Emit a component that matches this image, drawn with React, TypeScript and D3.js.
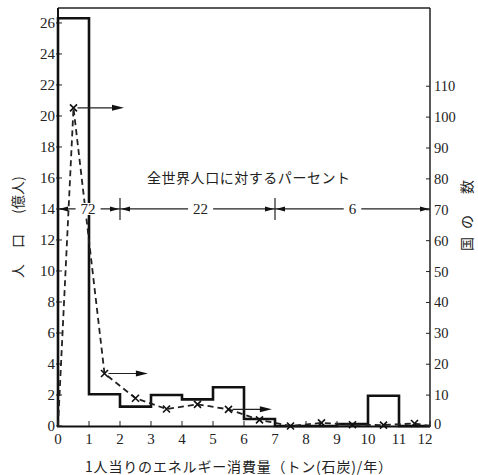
import React from "react";
import * as d3 from "d3";

// ---- data ----
const binEdges = [0, 1, 2, 3, 4, 5, 6, 7, 8, 9, 10, 11, 12];
const populationValues = [26.3, 2.05, 1.25, 2.0, 1.72, 2.5, 0.45, 0, 0, 0.12, 1.95, 0];
const countryX = [0, 0.5, 1.5, 2.5, 3.5, 4.5, 5.5, 6.5, 7.5, 8.5, 9.5, 10.5, 11.5, 12];
const countryValues = [0, 103, 17, 9, 5.5, 7, 5.4, 2, 0, 1, 0.4, 0.3, 0.8, 0];
const markedIdx = [1, 2, 3, 4, 5, 6, 7, 8, 9, 10, 11, 12];
const leftTicks = [0, 2, 4, 6, 8, 10, 12, 14, 16, 18, 20, 22, 24, 26];
const rightTicks = [0, 10, 20, 30, 40, 50, 60, 70, 80, 90, 100, 110];
const xTicks = [0, 1, 2, 3, 4, 5, 6, 7, 8, 9, 10, 11, 12];
const bandEdges = [0, 2, 7, 12];
const bandLabels = ["72", "22", "6"];
const bandLabelX = [0.97, 4.6, 9.5];
const bandLevel = 14;
const arrowFrom = [0.5, 1.5, 5.5];
const arrowTo = [2.13, 2.9, 6.9];
const arrowVal = [103, 17, 5.4];

const title = "全世界人口に対するパーセント";
const xLabel = "1人当りのエネルギー消費量（トン(石炭)/年）";

export default function App() {
  const x = d3.scaleLinear().domain([0, 12]).range([58, 430]);
  const yL = d3.scaleLinear().domain([0, 26.9]).range([426, 9]);
  const yR = d3.scaleLinear().domain([0, 135]).range([426, 9]);
  const serif = "'Liberation Serif', 'DejaVu Serif', serif";
  const cjk = "'Noto Sans CJK JP', sans-serif";

  // histogram step path
  const pts: [number, number][] = [[binEdges[0], 0]];
  populationValues.forEach((v, i) => {
    pts.push([binEdges[i], v]);
    pts.push([binEdges[i + 1], v]);
  });
  pts.push([binEdges[binEdges.length - 1], 0]);
  const histLine = d3
    .line<[number, number]>()
    .x((d) => x(d[0]))
    .y((d) => yL(d[1]));

  const cLine = d3
    .line<number>()
    .x((_, i) => x(countryX[i]))
    .y((d) => yR(d));

  const by = yL(bandLevel);

  const arrowHead = (tx: number, ty: number, dir: number, len = 10, hw = 3) =>
    `M${tx},${ty} L${tx - dir * len},${ty - hw} L${tx - dir * len},${ty + hw} Z`;

  return (
    <svg width={478} height={475} style={{ display: "block", position: "absolute", left: 0, top: 0 }}>
      <rect width={478} height={475} fill="#fff" />
      {/* frame */}
      <line x1={x(0)} x2={x(12)} y1={8} y2={8} stroke="#222" strokeWidth={1.5} />
      <line x1={x(12)} x2={x(12)} y1={8} y2={427} stroke="#222" strokeWidth={1.5} />
      <line x1={x(0)} x2={x(0)} y1={8} y2={427} stroke="#111" strokeWidth={2} />
      <line x1={x(0) - 1} x2={x(12)} y1={426.5} y2={426.5} stroke="#111" strokeWidth={2.2} />

      {/* left ticks */}
      {leftTicks.map((t) => (
        <g key={"l" + t}>
          <line x1={x(0) - 2} x2={x(0) + 4} y1={yL(t)} y2={yL(t)} stroke="#222" strokeWidth={1} />
          <text x={55} y={yL(t) + 5} textAnchor="end" fontFamily={serif} fontSize={15} fill="#222">
            {t}
          </text>
        </g>
      ))}
      {/* right ticks */}
      {rightTicks.map((t) => (
        <g key={"r" + t}>
          <line x1={x(12) - 4} x2={x(12)} y1={yR(t)} y2={yR(t)} stroke="#222" strokeWidth={1} />
          <text x={434} y={yR(t) + (t === 0 ? 3 : 5)} textAnchor="start" fontFamily={serif} fontSize={14.5} fill="#222">
            {t}
          </text>
        </g>
      ))}
      {/* x ticks */}
      {xTicks.map((t) => (
        <g key={"x" + t}>
          <line x1={x(t)} x2={x(t)} y1={426} y2={421} stroke="#222" strokeWidth={1} />
          <text x={t === 12 ? x(t) - 5 : x(t)} y={444} textAnchor="middle" fontFamily={serif} fontSize={15} fill="#222">
            {t}
          </text>
        </g>
      ))}

      {/* histogram */}
      <path d={histLine(pts) || ""} fill="none" stroke="#111" strokeWidth={2.6} strokeLinejoin="miter" />

      {/* countries dashed line */}
      <path
        d={cLine(countryValues) || ""}
        fill="none"
        stroke="#222"
        strokeWidth={1.8}
        strokeDasharray="6,4"
      />
      {markedIdx.map((i) => {
        const cx = x(countryX[i]);
        const cy = yR(countryValues[i]);
        const s = 3.5;
        return (
          <path
            key={"m" + i}
            d={`M${cx - s},${cy - s} L${cx + s},${cy + s} M${cx - s},${cy + s} L${cx + s},${cy - s}`}
            stroke="#111"
            strokeWidth={1.6}
          />
        );
      })}

      {/* arrows to right axis */}
      {arrowFrom.map((f, i) => {
        const yy = yR(arrowVal[i]);
        const x1 = x(f) + 4;
        const x2 = x(arrowTo[i]);
        return (
          <g key={"a" + i}>
            <line x1={x1} x2={x2 - 6} y1={yy} y2={yy} stroke="#222" strokeWidth={1.2} />
            <path d={arrowHead(x2, yy, 1, 12, 3)} fill="#111" />
          </g>
        );
      })}

      {/* percent band line */}
      <line x1={x(0)} x2={x(12)} y1={by} y2={by} stroke="#222" strokeWidth={1.2} />
      {bandEdges.slice(1, -1).map((e) => (
        <line key={"be" + e} x1={x(e)} x2={x(e)} y1={by - 11} y2={by + 11} stroke="#222" strokeWidth={1.2} />
      ))}
      {bandEdges.slice(0, -1).map((e, i) => {
        const a = x(e);
        const b = x(bandEdges[i + 1]);
        return (
          <g key={"bh" + i}>
            <path d={arrowHead(a + 1, by, -1, 9, 2.5)} fill="#111" />
            <path d={arrowHead(b - 1, by, 1, 9, 2.5)} fill="#111" />
          </g>
        );
      })}
      {bandLabels.map((l, i) => {
        const cx = x(bandLabelX[i]);
        const w = l.length * 7.5 + 10;
        return (
          <g key={"bl" + i}>
            <rect x={cx - w / 2} y={by - 6} width={w} height={12} fill="#fff" />
            <text x={cx} y={by + 5} textAnchor="middle" fontFamily={serif} fontSize={15} fill="#222">
              {l}
            </text>
          </g>
        );
      })}

      {/* title */}
      <text x={147} y={183} fontFamily={cjk} fontSize={14} fill="#222" textLength={203} lengthAdjust="spacing">
        {title}
      </text>

      {/* x label */}
      <text x={85} y={472} fontFamily={cjk} fontSize={14} fill="#222" textLength={307} lengthAdjust="spacing">
        {xLabel}
      </text>

      {/* left y label */}
      {[
        ["人", 271],
        ["口", 241],
        ["(億人)", 195],
      ].map(([t, cy]) => (
        <text
          key={"yl" + t}
          transform={`translate(23,${cy}) rotate(-90)`}
          textAnchor="middle"
          fontFamily={cjk}
          fontSize={14}
          fill="#222"
        >
          {t as string}
        </text>
      ))}

      {/* right y label */}
      {[
        ["国", 244],
        ["の", 222],
        ["数", 187],
      ].map(([t, cy]) => (
        <text
          key={"yr" + t}
          transform={`translate(472,${cy}) rotate(-90)`}
          textAnchor="middle"
          fontFamily={cjk}
          fontSize={14}
          fill="#222"
        >
          {t as string}
        </text>
      ))}
    </svg>
  );
}
